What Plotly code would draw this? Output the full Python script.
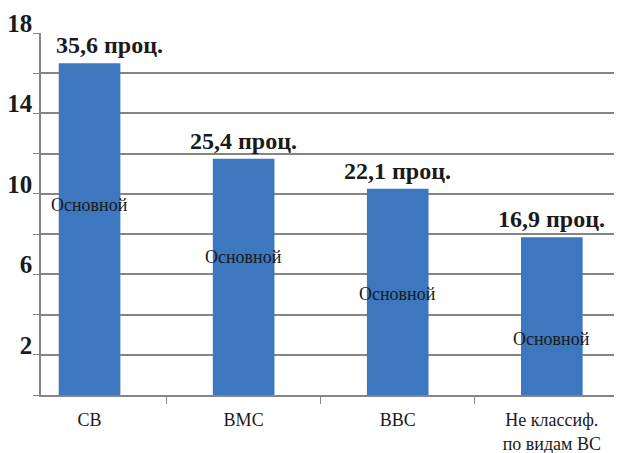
import plotly.graph_objects as go

categories = ["СВ", "ВМС", "ВВС", "Не классиф.<br>по видам ВС"]
values = [16.5, 11.75, 10.25, 7.85]
top_labels = ["35,6 проц.", "25,4 проц.", "22,1 проц.", "16,9 проц."]
inner_label = "Основной"
inner_label_heights = [9.45, 6.85, 5.0, 2.8]
y_tickvals = [0, 2, 4, 6, 8, 10, 12, 14, 16, 18]
y_ticktext = ["", "2", "", "6", "", "10", "", "14", "", "18"]

bar_color = "#3c77bf"
grid_color = "#858585"
serif = "Liberation Serif"

fig = go.Figure()
fig.add_trace(go.Bar(
    x=categories,
    y=values,
    marker=dict(color=bar_color, line=dict(width=0)),
    width=0.4,
    hoverinfo="skip",
))

annotations = []
for i, (v, t) in enumerate(zip(values, top_labels)):
    annotations.append(dict(
        x=i, y=v, xref="x", yref="y", text=t, showarrow=False,
        yanchor="bottom", yshift=3, xshift=20 if i == 0 else 0,
        font=dict(family=serif, size=24, color="#1a1a1a", weight="bold"),
    ))
for i, h in enumerate(inner_label_heights):
    annotations.append(dict(
        x=i, y=h, xref="x", yref="y", text=inner_label, showarrow=False,
        yanchor="middle",
        font=dict(family=serif, size=18, color="#1a1a1a"),
    ))

fig.update_layout(
    template="none",
    width=614, height=445,
    margin=dict(l=33, r=7, t=25, b=58),
    paper_bgcolor="white", plot_bgcolor="white",
    showlegend=False,
    annotations=annotations,
    xaxis=dict(
        type="category",
        automargin=False,
        range=[-0.315, 3.41],
        showgrid=False,
        showline=True, linecolor=grid_color, linewidth=1.5,
        ticks="outside", tickson="boundaries", ticklen=7, tickcolor=grid_color, tickwidth=1.2,
        ticklabelstandoff=8,
        tickfont=dict(family=serif, size=18, color="#1a1a1a"),
    ),
    yaxis=dict(
        automargin=False,
        range=[0, 18],
        tickvals=y_tickvals, ticktext=y_ticktext,
        showgrid=True, gridcolor=grid_color, gridwidth=1.5,
        showline=True, linecolor=grid_color, linewidth=1.5,
        ticks="outside", ticklen=6, tickcolor=grid_color, tickwidth=1.2,
        ticklabelshift=-10, ticklabelstandoff=-4,
        tickfont=dict(family=serif, size=25, color="#1a1a1a", weight="bold"),
        zeroline=False,
    ),
)

fig.write_html("out.html")
